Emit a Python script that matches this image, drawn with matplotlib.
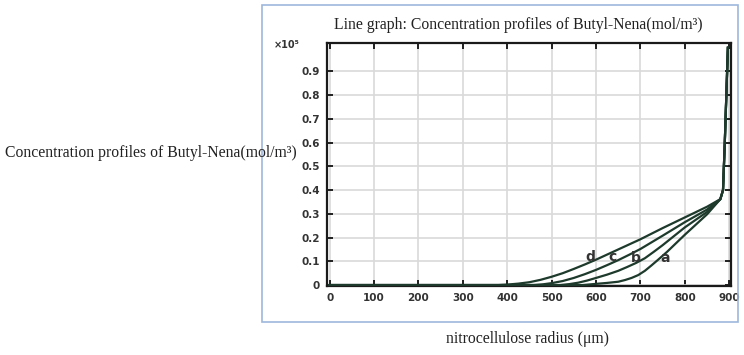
import matplotlib
matplotlib.use("Agg")
import matplotlib.pyplot as plt
from matplotlib.patches import Rectangle

# ---- data ----
tail_x = [880, 886, 890, 897]
tail_y = [0.362, 0.40, 0.60, 1.0]

d_x = [0, 380, 400, 425, 450, 475, 500, 525, 550, 575, 600, 650, 700, 750, 800, 850]
d_y = [0, 0, 0.002, 0.006, 0.012, 0.022, 0.035, 0.050, 0.068, 0.087, 0.107,
       0.150, 0.193, 0.240, 0.285, 0.330]

c_x = [0, 460, 480, 500, 525, 550, 575, 600, 625, 650, 675, 700, 750, 800, 850]
c_y = [0, 0, 0.003, 0.008, 0.017, 0.030, 0.046, 0.064, 0.084, 0.105, 0.128,
       0.152, 0.208, 0.265, 0.318]

b_x = [0, 520, 540, 560, 580, 600, 625, 650, 670, 690, 710, 730, 750, 800, 850]
b_y = [0, 0, 0.004, 0.010, 0.019, 0.030, 0.044, 0.060, 0.076, 0.093, 0.113,
       0.140, 0.168, 0.243, 0.308]

a_x = [0, 570, 600, 625, 650, 665, 680, 695, 710, 725, 740, 760, 800, 850]
a_y = [0, 0, 0.005, 0.009, 0.014, 0.021, 0.030, 0.042, 0.060, 0.083, 0.107,
       0.140, 0.212, 0.298]

curve_names = ["a", "b", "c", "d"]
label_pos_x = [755, 690, 636, 588]
label_pos_y = [0.115, 0.115, 0.12, 0.12]

x_ticks = [0, 100, 200, 300, 400, 500, 600, 700, 800, 900]
y_ticks = [0, 0.1, 0.2, 0.3, 0.4, 0.5, 0.6, 0.7, 0.8, 0.9]
y_tick_labels = ["0", "0.1", "0.2", "0.3", "0.4", "0.5", "0.6", "0.7", "0.8", "0.9"]

title_text = "Line graph: Concentration profiles of Butyl-Nena(mol/m\u00b3)"
ylabel_text = "Concentration profiles of Butyl-Nena(mol/m\u00b3)"
xlabel_text = "nitrocellulose radius (\u03bcm)"
scale_text = "\u00d710\u2075"

W, H = 744, 355
fig = plt.figure(figsize=(W / 100, H / 100), dpi=100)
fig.patch.set_facecolor("white")

# outer light-blue frame
fig.patches.append(Rectangle((262 / W, 1 - 322 / H), (738 - 262) / W, (322 - 5) / H,
                             transform=fig.transFigure, fill=False,
                             edgecolor="#9db8dc", linewidth=1.2))

ax = fig.add_axes([327 / W, 1 - 286 / H, (731 - 327) / W, (286 - 43) / H])

line_color = "#1d3a2c"
for xs, ys in [(a_x, a_y), (b_x, b_y), (c_x, c_y), (d_x, d_y)]:
    ax.plot(xs + tail_x, ys + tail_y, color=line_color, linewidth=1.6,
            solid_joinstyle="round", zorder=3)

for name, lx, ly in zip(curve_names, label_pos_x, label_pos_y):
    ax.text(lx, ly, name, fontsize=10, fontweight="bold", color="#333333",
            family="DejaVu Sans", ha="center", va="center", zorder=4)

ax.set_xlim(-6, 904)
ax.set_ylim(-0.004, 1.02)
ax.set_xticks(x_ticks)
ax.set_yticks(y_ticks)
ax.set_yticklabels(y_tick_labels)
ax.grid(True, color="#d9d9d9", linewidth=1.2, zorder=0)
ax.set_axisbelow(True)
for sp in ax.spines.values():
    sp.set_linewidth(1.6)
    sp.set_color("#1a1a1a")
ax.tick_params(direction="in", length=4, width=1.2, top=True, right=True,
               labelsize=7.5, labelcolor="#333333", pad=5)
for lab in ax.get_xticklabels() + ax.get_yticklabels():
    lab.set_fontweight("bold")

fig.text(287 / W, 1 - 45 / H, scale_text, fontsize=7, fontweight="bold",
         color="#333333", ha="center", va="center")

serif = ["Liberation Serif", "DejaVu Serif"]
fig.text(518 / W, 1 - 25 / H, title_text, fontsize=11.3, family=serif,
         ha="center", va="center", color="#222222")
fig.text(5 / W, 1 - 153 / H, ylabel_text, fontsize=11.3, family=serif,
         ha="left", va="center", color="#222222")
fig.text(527 / W, 1 - 339 / H, xlabel_text, fontsize=11.3, family=serif,
         ha="center", va="center", color="#222222")

fig.savefig("out.png", dpi=100)
